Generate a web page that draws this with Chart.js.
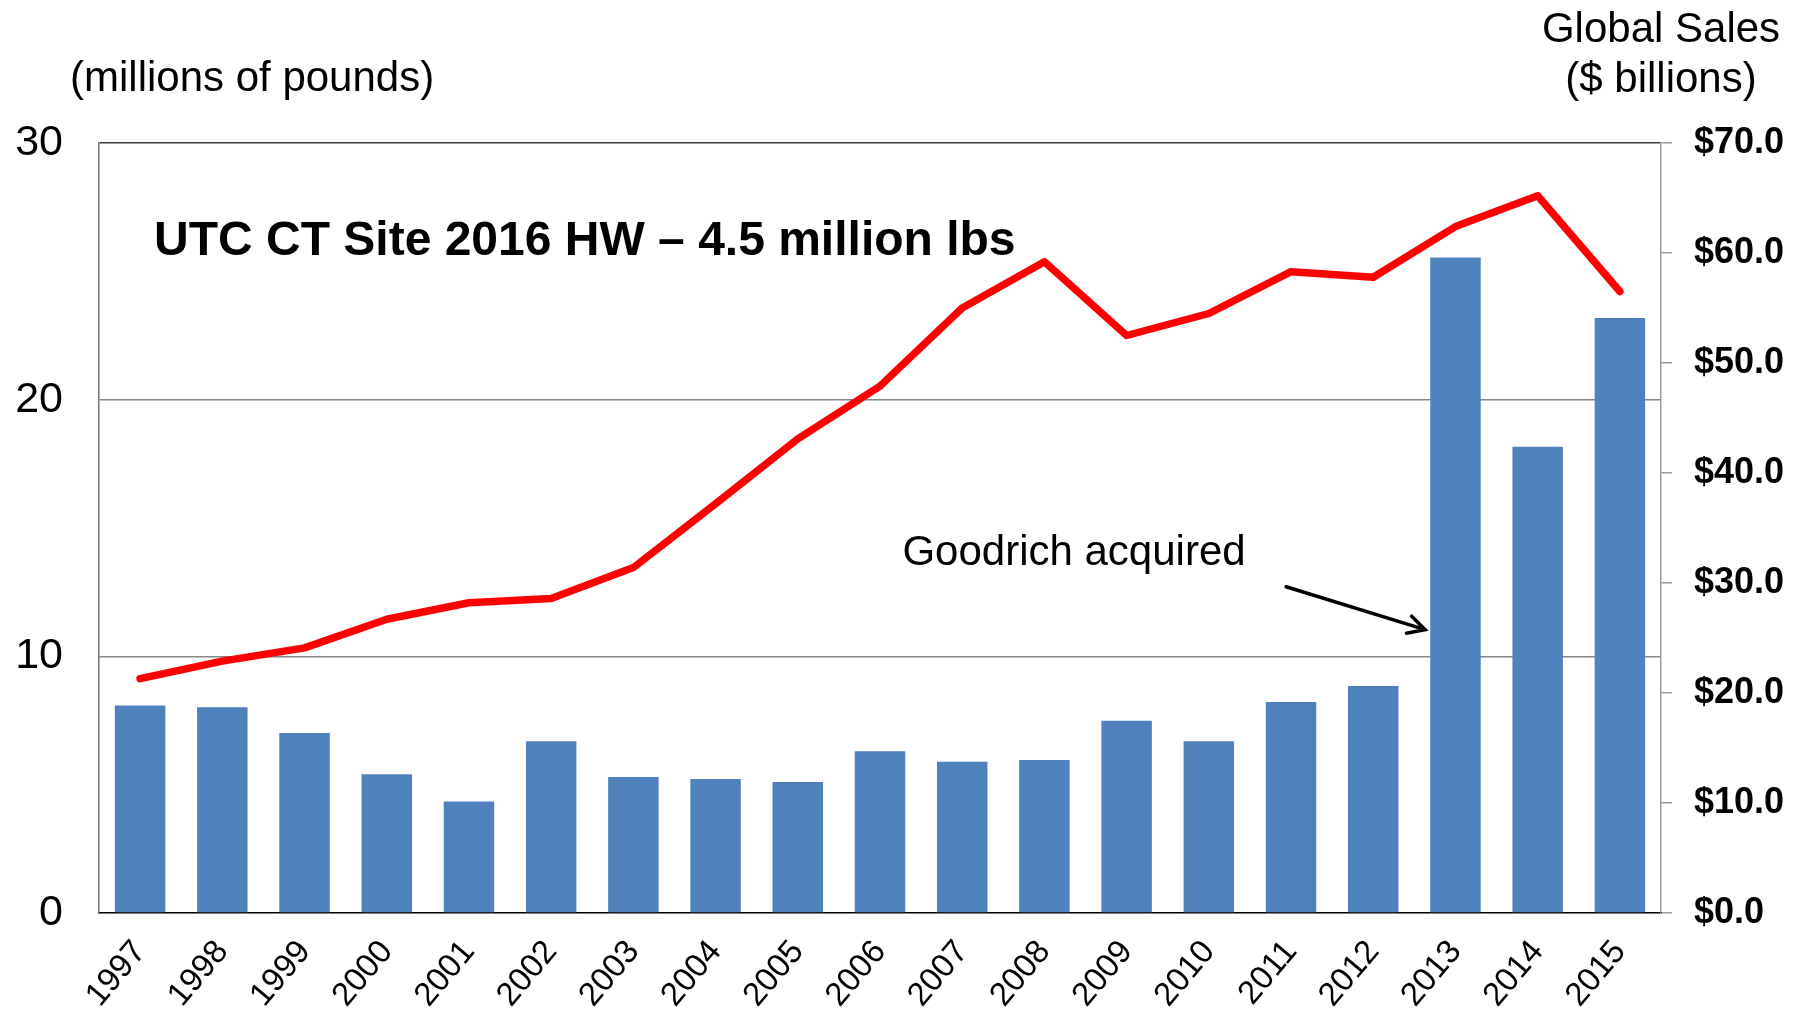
<!DOCTYPE html>
<html><head><meta charset="utf-8">
<script src="https://cdn.jsdelivr.net/npm/chart.js@4"></script>
<style>html,body{margin:0;padding:0;background:#fff}canvas{display:block}</style>
</head><body>
<canvas id="c" width="1805" height="1012"></canvas>
<script>
const years = ['1997','1998','1999','2000','2001','2002','2003','2004','2005','2006','2007','2008','2009','2010','2011','2012','2013','2014','2015'];
const hazardousWaste = [8.08, 8.02, 7.01, 5.41, 4.34, 6.69, 5.30, 5.22, 5.10, 6.30, 5.89, 5.96, 7.49, 6.69, 8.22, 8.84, 25.54, 18.17, 23.18];
const globalSales = [21.3, 22.9, 24.1, 26.7, 28.2, 28.6, 31.4, 37.2, 43.1, 47.9, 55.0, 59.2, 52.5, 54.5, 58.3, 57.8, 62.4, 65.2, 56.5];
const leftTickValues = [0, 10, 20, 30];
const rightTickValues = [0, 10, 20, 30, 40, 50, 60, 70];
const chartTitle = 'UTC CT Site 2016 HW \u2013 4.5 million lbs';
const leftAxisTitle = '(millions of pounds)';
const rightAxisTitle = ['Global Sales', '($ billions)'];
const noteText = 'Goodrich acquired';

const FONT = '"Liberation Sans", Arial, Helvetica, sans-serif';

const textPlugin = {
  id: 'texts',
  afterDraw(chart) {
    const {ctx, chartArea: a, scales: {x, y}} = chart;
    ctx.save();
    ctx.fillStyle = '#000';
    ctx.textBaseline = 'alphabetic';
    ctx.font = '42px ' + FONT;
    ctx.textAlign = 'left';
    ctx.fillText(leftAxisTitle, a.left - 29, a.top - 52);
    ctx.textAlign = 'center';
    ctx.fillText(rightAxisTitle[0], a.right, a.top - 101);
    ctx.fillText(rightAxisTitle[1], a.right, a.top - 51);
    ctx.textAlign = 'left';
    ctx.font = 'bold 48px ' + FONT;
    ctx.fillText(chartTitle, a.left + 55, a.top + 112);
    // annotation
    ctx.font = '42px ' + FONT;
    ctx.textAlign = 'center';
    ctx.fillText(noteText, x.getPixelForValue(11.36), y.getPixelForValue(13.55));
    const x0 = x.getPixelForValue(13.94), y0 = y.getPixelForValue(12.71);
    const x1 = x.getPixelForValue(15.63), y1 = y.getPixelForValue(11.04);
    ctx.strokeStyle = '#000';
    ctx.lineWidth = 3.5;
    ctx.lineCap = 'round';
    ctx.beginPath();
    ctx.moveTo(x0, y0); ctx.lineTo(x1, y1);
    const ang = Math.atan2(y1 - y0, x1 - x0);
    const hl = 19, spread = 28 * Math.PI / 180;
    ctx.moveTo(x1 - hl * Math.cos(ang - spread), y1 - hl * Math.sin(ang - spread));
    ctx.lineTo(x1, y1);
    ctx.lineTo(x1 - hl * Math.cos(ang + spread), y1 - hl * Math.sin(ang + spread));
    ctx.stroke();
    ctx.restore();
  }
};

new Chart(document.getElementById('c'), {
  data: {
    labels: years,
    datasets: [
      {
        type: 'line', label: 'Global Sales', data: globalSales, yAxisID: 'y1', order: 0,
        borderColor: '#FF0000', borderWidth: 7.5, pointRadius: 0, tension: 0,
        borderCapStyle: 'round', borderJoinStyle: 'round', fill: false
      },
      {
        type: 'bar', label: 'Hazardous waste', data: hazardousWaste, yAxisID: 'y', order: 1,
        backgroundColor: '#4F81BD', borderWidth: 0,
        categoryPercentage: 1.0, barPercentage: 0.614
      }
    ]
  },
  options: {
    responsive: false,
    animation: false,
    devicePixelRatio: 1,
    layout: { padding: { top: 143, left: 0, right: 0, bottom: 0 } },
    plugins: { legend: { display: false }, tooltip: { enabled: false } },
    scales: {
      x: {
        type: 'category',
        grid: { display: false, drawTicks: false },
        border: { display: true, color: '#000', width: 1.5 },
        ticks: { color: '#000', font: { family: FONT, size: 33 }, minRotation: 50, maxRotation: 50, autoSkip: false, padding: 20 },
        afterFit(s) { s.height = 99; }
      },
      y: {
        position: 'left', min: 0, max: 30,
        afterBuildTicks(s) { s.ticks = leftTickValues.map(v => ({value: v})); },
        grid: {
          drawTicks: false, lineWidth: 1.5,
          color: c => c.tick && c.tick.value === 30 ? '#3c3c3c' : (c.tick && c.tick.value === 0 ? 'rgba(0,0,0,0)' : '#868686')
        },
        border: { display: true, color: '#707070', width: 1.5 },
        ticks: { color: '#000', font: { family: FONT, size: 43 }, padding: 36 },
        afterFit(s) { s.width = 99; }
      },
      y1: {
        position: 'right', min: 0, max: 70,
        afterBuildTicks(s) { s.ticks = rightTickValues.map(v => ({value: v})); },
        grid: { drawOnChartArea: false, drawTicks: true, tickLength: 11, color: '#9a9a9a', lineWidth: 1.5 },
        border: { display: true, color: '#9a9a9a', width: 1.5 },
        ticks: { color: '#000', font: { family: FONT, size: 36, weight: 'bold' }, padding: 22,
          callback: v => '$' + Number(v).toFixed(1) },
        afterFit(s) { s.width = 144; }
      }
    }
  },
  plugins: [textPlugin]
});
</script>
</body></html>
